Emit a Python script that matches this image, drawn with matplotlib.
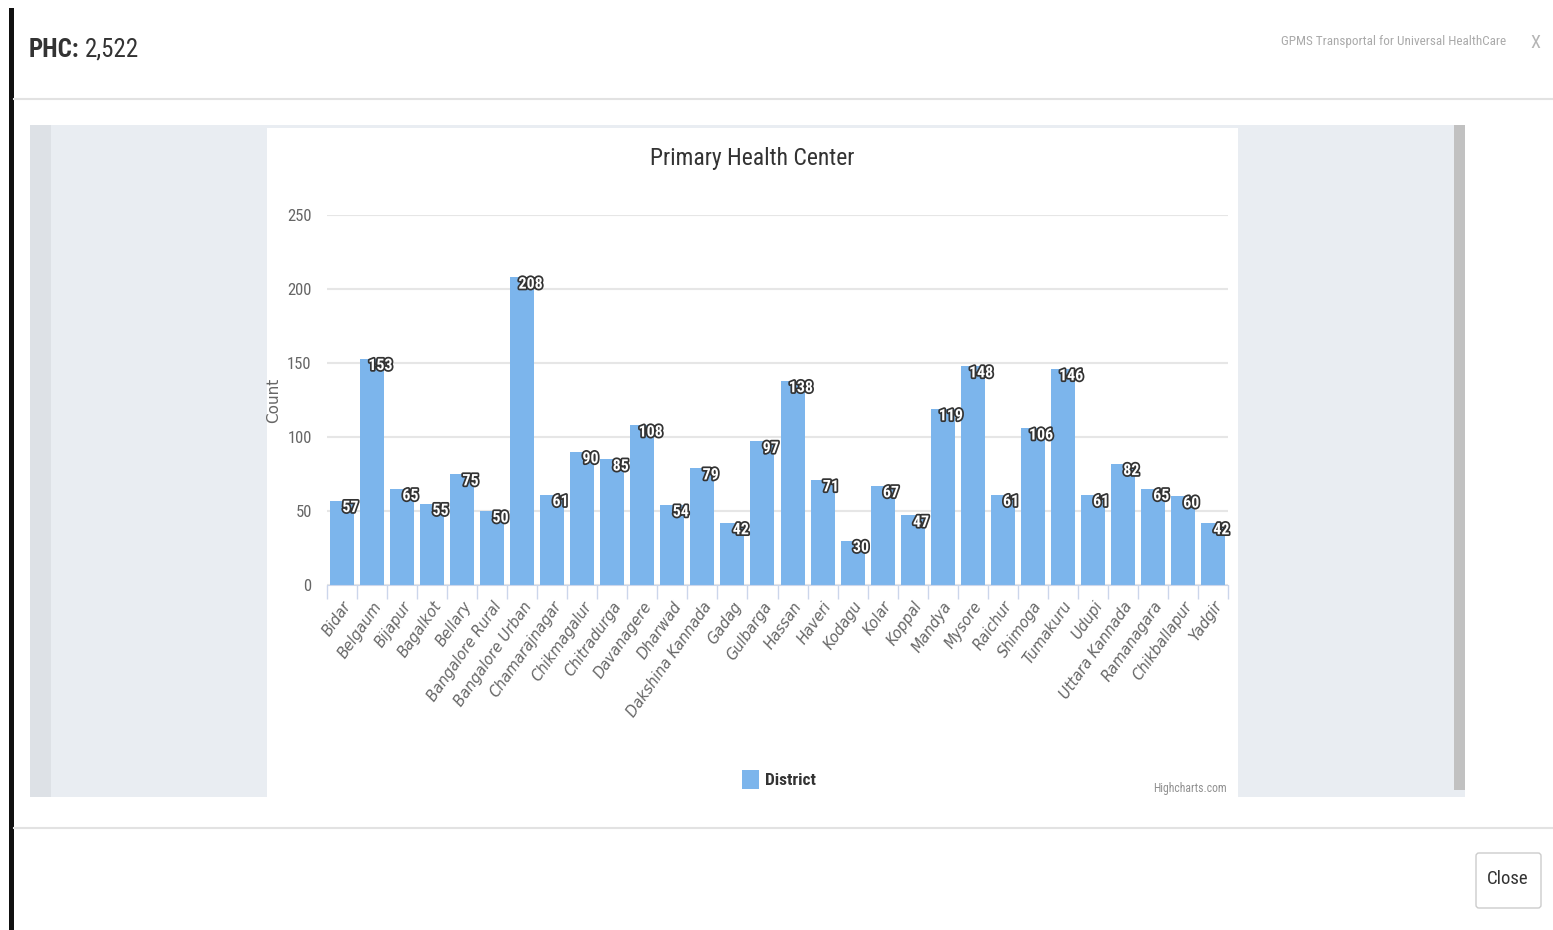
import matplotlib
matplotlib.use("Agg")
import matplotlib.pyplot as plt
import matplotlib.patheffects as pe
from matplotlib import font_manager as fm
from matplotlib.patches import Rectangle, FancyBboxPatch

# data
districts = ["Bidar", "Belgaum", "Bijapur", "Bagalkot", "Bellary", "Bangalore Rural",
             "Bangalore Urban", "Chamarajnagar", "Chikmagalur", "Chitradurga", "Davanagere",
             "Dharwad", "Dakshina Kannada", "Gadag", "Gulbarga", "Hassan", "Haveri", "Kodagu",
             "Kolar", "Koppal", "Mandya", "Mysore", "Raichur", "Shimoga", "Tumakuru", "Udupi",
             "Uttara Kannada", "Ramanagara", "Chikballapur", "Yadgir"]
counts = [57, 153, 65, 55, 75, 50, 208, 61, 90, 85, 108, 54, 79, 42, 97, 138, 71, 30,
          67, 47, 119, 148, 61, 106, 146, 61, 82, 65, 60, 42]
y_ticks = [0, 50, 100, 150, 200, 250]

W, H = 1553, 930
fig = plt.figure(figsize=(W / 100, H / 100), dpi=100)
fig.patch.set_facecolor("white")

# the screenshot is squeezed sideways, so use a narrow face if there is one
names = {f.name for f in fm.fontManager.ttflist}
narrow_name = next((n for n in ["Liberation Sans Narrow", "Roboto Condensed",
                                "DejaVu Sans Condensed"] if n in names), None)
has_dv_cond = any(f.name == "DejaVu Sans" and "condensed" in str(f.stretch)
                  for f in fm.fontManager.ttflist)
if narrow_name:
    NF = dict(family=narrow_name)
elif has_dv_cond:
    NF = dict(family="DejaVu Sans", fontstretch="condensed")
else:
    NF = dict(family="Roboto")

# background axes in screen pixels (origin top-left) for the page around the chart
bg = fig.add_axes([0, 0, 1, 1], zorder=0)
bg.set_xlim(0, W)
bg.set_ylim(H, 0)
bg.axis("off")


def box(x0, y0, x1, y1, color):
    bg.add_patch(Rectangle((x0, y0), x1 - x0, y1 - y0, facecolor=color, edgecolor="none"))


# page frame
box(9, 8, 14, 930, "#111111")
bg.plot([14, W], [99, 99], color="#e2e2e2", lw=1.5)
bg.plot([14, W], [828, 828], color="#e2e2e2", lw=1.5)
phc = bg.text(29, 50, "PHC:", fontsize=18, fontweight="bold",
              color="#333333", va="center", **NF)
bg.annotate("2,522", xy=(1, 0.5), xycoords=phc, xytext=(4, 0), textcoords="offset points",
            fontsize=18, color="#333333", va="center", ha="left", **NF)
bg.text(1506, 42, "GPMS Transportal for Universal HealthCare", fontsize=9.5,
        color="#aaaaaa", va="center", ha="right", **NF)
bg.text(1535, 43, "X", fontsize=13, color="#b5b5b5", va="center", ha="center", **NF)

# grey panel with the white chart in it
box(30, 125, 1465, 797, "#e9edf2")
box(30, 125, 51, 797, "#dde1e6")
box(1454, 125, 1465, 790, "#c1c1c1")
box(267, 128, 1238, 797, "white")

# close button
bg.add_patch(FancyBboxPatch((1476, 853), 65, 55, boxstyle="round,pad=0,rounding_size=3",
                            facecolor="white", edgecolor="#cccccc", lw=1))
bg.text(1508, 879, "Close", fontsize=13.5, color="#333333", ha="center", va="center", **NF)

# legend and credit
box(742, 770, 759, 789, "#7cb5ec")
bg.text(765, 780, "District", fontsize=12.5, fontweight="bold",
        color="#333333", va="center", **NF)
bg.text(1227, 788, "Highcharts.com", fontsize=8.5,
        color="#909090", va="center", ha="right", **NF)
bg.text(752, 158, "Primary Health Center", fontsize=17,
        color="#333333", ha="center", va="center", **NF)

# chart
ax = fig.add_axes([327 / W, 1 - 585 / H, 901 / W, 370 / H], zorder=1)
ax.set_facecolor("none")
x = list(range(len(districts)))
ax.bar(x, counts, width=0.8, color="#7cb5ec", zorder=2)
ax.set_xlim(-0.5, len(districts) - 0.5)
ax.set_ylim(0, 250)
ax.set_yticks(y_ticks)
ax.yaxis.grid(True, color="#e6e6e6", lw=1.5, zorder=0)
ax.set_axisbelow(True)
for s in ["top", "right", "left"]:
    ax.spines[s].set_visible(False)
ax.spines["bottom"].set_color("#ccd6eb")
ax.tick_params(axis="y", length=0, pad=11, labelsize=12, labelcolor="#666666")
ax.set_xticks([i - 0.5 for i in range(len(districts) + 1)], minor=True)
ax.set_xticks(x)
ax.tick_params(axis="x", which="minor", length=10, color="#ccd6eb", width=1)
ax.tick_params(axis="x", which="major", length=0, pad=10)
ax.set_xticklabels(districts, rotation=55, ha="right", rotation_mode="anchor",
                   fontsize=10.5, color="#666666", style="italic")
for lab in ax.get_yticklabels():
    lab.set_fontfamily(NF["family"])
    if "fontstretch" in NF:
        lab.set_fontstretch(NF["fontstretch"])

ax.set_ylabel("Count", fontsize=11, color="#666666")
ax.yaxis.set_label_coords(-0.051, 0.5)

for i, v in enumerate(counts):
    ax.annotate(str(v), (i, v), xytext=(6, -5), textcoords="offset points",
                ha="center", va="center", fontsize=11.5, fontweight="bold",
                color="white", zorder=4,
                path_effects=[pe.withStroke(linewidth=2.5, foreground="#333333")], **NF)

fig.savefig("out.png", dpi=100)
